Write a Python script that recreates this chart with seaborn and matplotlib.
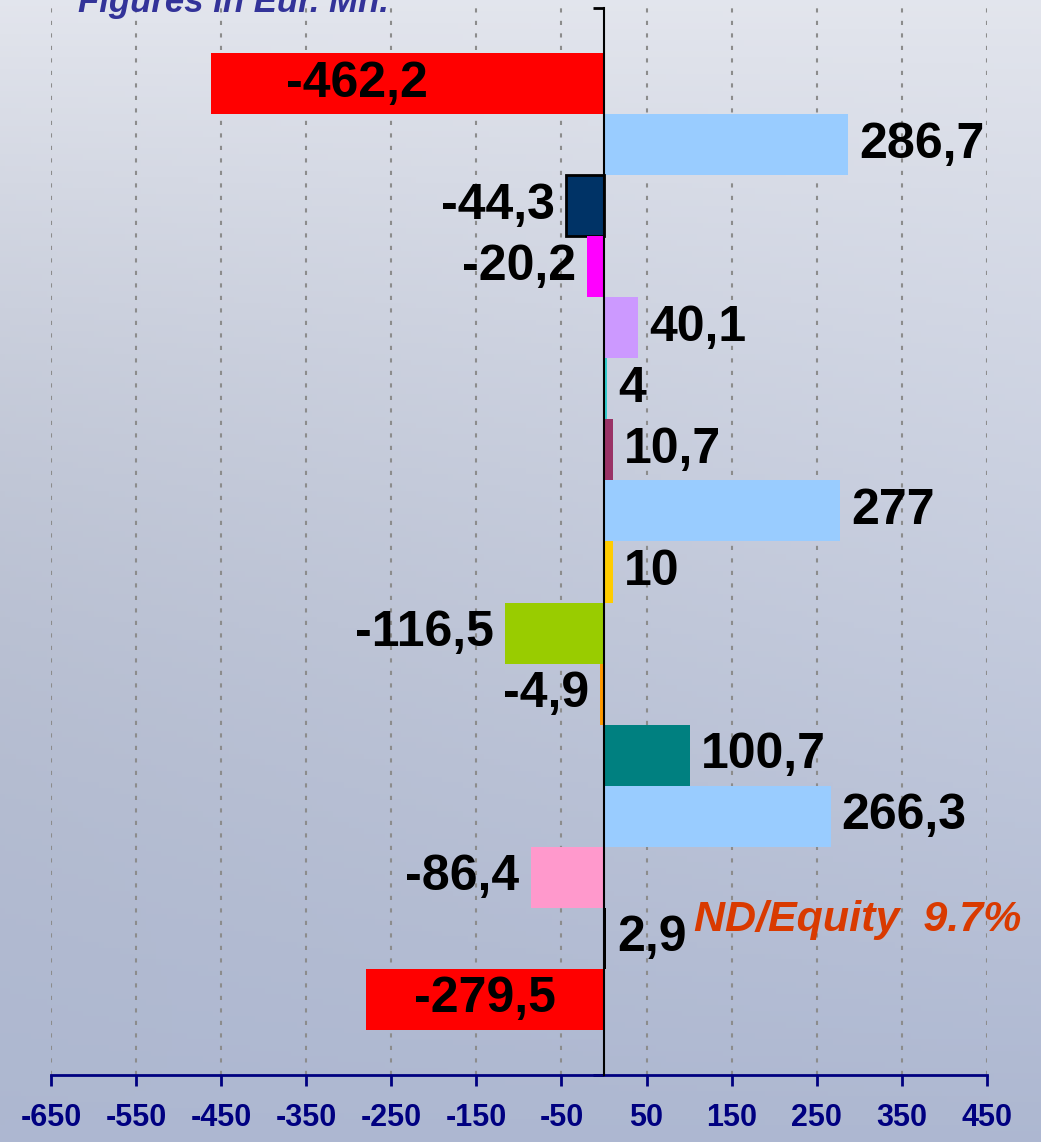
import numpy as np
import pandas as pd
import seaborn as sns
import matplotlib.pyplot as plt

# Data (top to bottom)
categories = ["c%02d" % i for i in range(1, 17)]
values = [-462.2, 286.7, -44.3, -20.2, 40.1, 4, 10.7, 277, 10,
          -116.5, -4.9, 100.7, 266.3, -86.4, 2.9, -279.5]
labels = ["-462,2", "286,7", "-44,3", "-20,2", "40,1", "4", "10,7", "277", "10",
          "-116,5", "-4,9", "100,7", "266,3", "-86,4", "2,9", "-279,5"]
bar_colors = ["#FF0000", "#99CCFF", "#003366", "#FF00FF", "#CC99FF", "#33CCCC",
              "#993366", "#99CCFF", "#FFCC00", "#99CC00", "#FF9900", "#008080",
              "#99CCFF", "#FF99CC", "#000000", "#FF0000"]
xticks = [-650, -550, -450, -350, -250, -150, -50, 50, 150, 250, 350, 450]
title = "Figures in Eur. Mn."
note = "ND/Equity  9.7%"

df = pd.DataFrame({"cat": categories, "value": values})

sns.set_style("white")
plt.rcParams['font.family'] = ['Liberation Sans', 'DejaVu Sans']

fig = plt.figure(figsize=(10.41, 11.42), dpi=100)

# metal-like background gradient
bg = fig.add_axes([0, 0, 1, 1], zorder=-1)
yy, xx = np.mgrid[0:1:200j, 0:1:200j]
top = np.array([0.89, 0.90, 0.93])
bot = np.array([0.68, 0.72, 0.82])
t = yy[..., None] ** 0.9
img = top * (1 - t) + bot * t
img = img - 0.04 * (1 - xx[..., None]) * np.sin(np.pi * yy[..., None])
bg.imshow(np.clip(img, 0, 1), aspect='auto', extent=[0, 1, 0, 1], origin='upper')
bg.axis('off')

ax = fig.add_axes([0.049, 0.0587, 0.899, 0.9343])
ax.set_facecolor('none')
sns.barplot(data=df, x="value", y="cat", hue="cat", palette=bar_colors,
            legend=False, width=1.0, saturation=1, linewidth=0, ax=ax, zorder=2)

# black edge on the navy bar
ax.patches[2].set_edgecolor('black')
ax.patches[2].set_linewidth(2)

ax.set_xlim(-650, 450)
ax.set_ylim(15.5 + 0.74, -0.5 - 0.74)
ax.set_xlabel("")
ax.set_ylabel("")

# grid
ax.set_axisbelow(True)
ax.set_xticks(xticks)
ax.xaxis.grid(True, color='#8c8c8c', linestyle=(0, (2, 4)), linewidth=1.5)
ax.yaxis.grid(False)

# spines
for s in ['top', 'right']:
    ax.spines[s].set_visible(False)
ax.spines['bottom'].set_color('#000080')
ax.spines['bottom'].set_linewidth(2)
ax.spines['left'].set_position(('data', 0))
ax.spines['left'].set_color('black')
ax.spines['left'].set_linewidth(1.5)
ax.spines['left'].set_zorder(3)

ax.set_yticks(ax.get_ylim())
ax.set_yticklabels([])
ax.tick_params(axis='y', direction='out', length=8, width=2, color='black', left=True)
ax.tick_params(axis='x', direction='out', length=8, width=2, color='#000080',
               bottom=True, pad=12)
ax.set_xticklabels([str(v) for v in xticks])
for lab in ax.get_xticklabels():
    lab.set_fontweight('bold')
    lab.set_fontsize(22)
    lab.set_color('#000080')

# value labels
inside_x = {0: -290, 15: -140}
for i, (v, lab) in enumerate(zip(values, labels)):
    if i in inside_x:
        ax.text(inside_x[i], i, lab, ha='center', va='center', fontsize=36,
                fontweight='bold', color='black', zorder=4)
    elif v >= 0:
        ax.annotate(lab, (v, i), xytext=(8, 0), textcoords='offset points',
                    ha='left', va='center', fontsize=36, fontweight='bold',
                    color='black', zorder=4)
    else:
        ax.annotate(lab, (v, i), xytext=(-8, 0), textcoords='offset points',
                    ha='right', va='center', fontsize=36, fontweight='bold',
                    color='black', zorder=4)

# note text and title
fig.text(0.981, 0.194, note, ha='right', va='center', fontsize=31,
         fontweight='bold', style='italic', color='#D93A00')
fig.text(0.075, 0.9895, title, ha='left', va='baseline', fontsize=25,
         fontweight='bold', style='italic', color='#333399')

fig.savefig("out.png", dpi=100)
